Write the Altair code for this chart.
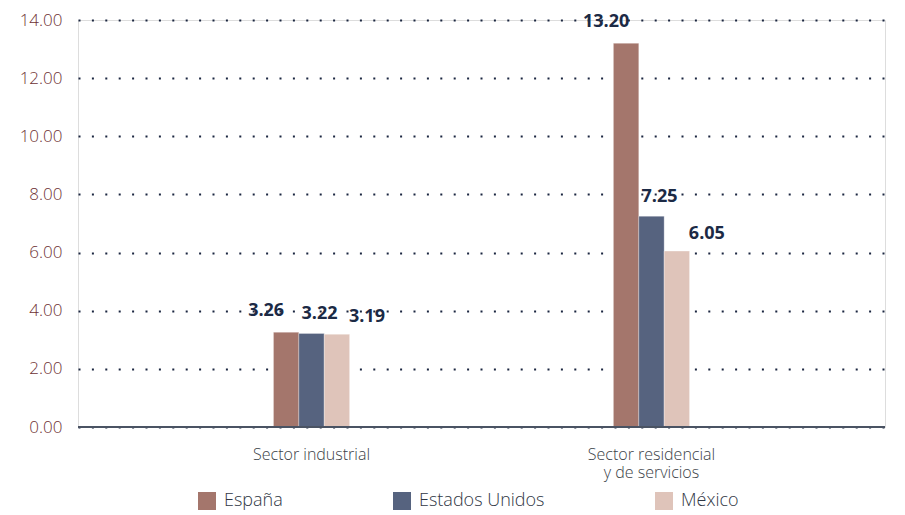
import altair as alt
import pandas as pd

sectores = ["Sector industrial", "Sector residencial y de servicios"]
paises = ["España", "Estados Unidos", "México"]
valores_industrial = [3.26, 3.22, 3.19]
valores_residencial = [13.20, 7.25, 6.05]
colores = ["#a4766c", "#56637f", "#dfc4ba"]

rows = []
for s, vals in zip(sectores, [valores_industrial, valores_residencial]):
    for p, v in zip(paises, vals):
        rows.append({"sector": s, "pais": p, "valor": v})
df = pd.DataFrame(rows)

FONT = "Open Sans"

x_enc = alt.X(
    "sector:N",
    sort=sectores,
    scale=alt.Scale(paddingInner=0.776, paddingOuter=0.575),
    axis=alt.Axis(
        title=None,
        orient="bottom",
        labelAngle=0,
        ticks=False,
        grid=False,
        domain=False,
        labelPadding=27,
        labelBaseline="middle",
        labelFont=FONT,
        labelFontWeight=300,
        labelFontSize=16,
        labelColor="#3b3f48",
        labelLineHeight=18,
        labelExpr="datum.value == 'Sector residencial y de servicios' ? ['Sector residencial', 'y de servicios'] : datum.label",
    ),
)
y_enc = alt.Y(
    "valor:Q",
    scale=alt.Scale(domain=[0, 14], nice=False),
    axis=alt.Axis(
        title=None,
        orient="left",
        values=[0, 2, 4, 6, 8, 10, 12, 14],
        format=".2f",
        ticks=False,
        domain=False,
        grid=True,
        gridColor="#1b2640",
        gridWidth=2,
        gridDash=[2, 11.4],
        labelPadding=16,
        labelFont=FONT,
        labelFontWeight=300,
        labelFontSize=17,
        labelColor="#6e3234",
    ),
)
xo_enc = alt.XOffset("pais:N", sort=paises, scale=alt.Scale(paddingInner=0, paddingOuter=0))

bars = alt.Chart(df).mark_bar(stroke="#ffffff", strokeWidth=0.5, strokeOpacity=0.6).encode(
    x=x_enc,
    xOffset=xo_enc,
    y=y_enc,
    color=alt.Color(
        "pais:N",
        sort=paises,
        scale=alt.Scale(domain=paises, range=colores),
        legend=alt.Legend(
            title=None,
            orient="none",
            direction="horizontal",
            legendX=120,
            legendY=472,
            symbolType="square",
            symbolSize=324,
            symbolStrokeWidth=0,
            symbolOpacity=1,
            labelFont=FONT,
            labelFontWeight=300,
            labelFontSize=18,
            labelColor="#2f3644",
            labelOffset=8,
            columnPadding=110,
        ),
    ),
)

baseline = alt.Chart(df).mark_rule(color="#4a5363", strokeWidth=2).encode(
    y=alt.datum(0),
    x=alt.value(0),
    x2=alt.value(807),
)

offsets = {"España": (-20, -12), "Estados Unidos": (8, -10), "México": (30, -8)}
labels = []
for p in paises:
    dx, dy = offsets[p]
    labels.append(
        alt.Chart(df)
        .transform_filter(alt.datum.pais == p)
        .mark_text(
            font=FONT,
            fontWeight="bold",
            fontSize=18,
            color="#1c2a45",
            baseline="bottom",
            dx=dx,
            dy=dy,
        )
        .encode(
            x=x_enc,
            xOffset=xo_enc,
            y=y_enc,
            text=alt.Text("valor:Q", format=".2f"),
        )
    )

chart = (
    alt.layer(bars, baseline, *labels)
    .properties(
        width=807,
        height=407,
        autosize=alt.AutoSizeParams(type="none"),
        padding={"left": 70, "top": 12, "right": 12, "bottom": 88},
    )
    .configure_view(strokeWidth=0, stroke="transparent")
    .configure_axis(domain=False)
    .configure_axisX(grid=False)
    .configure(background="#ffffff")
)

chart.save("out.html", embed_options={"renderer": "svg", "actions": False})
